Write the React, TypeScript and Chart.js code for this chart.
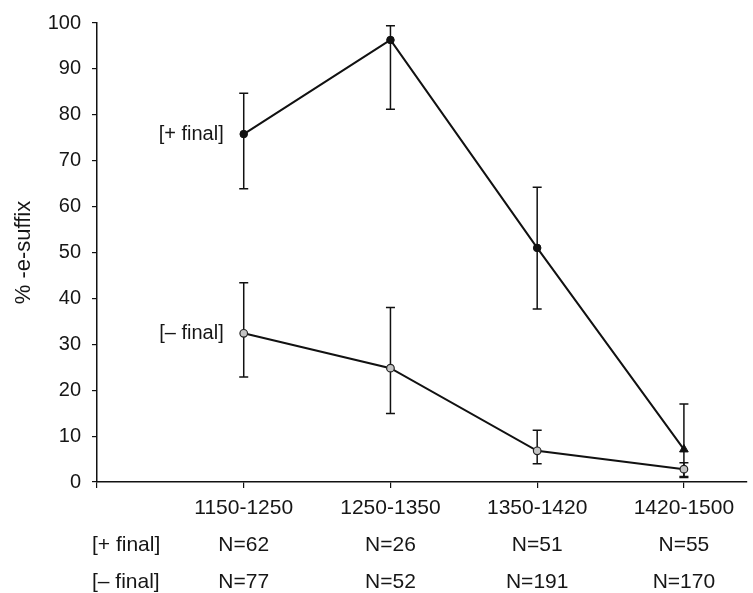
import { useEffect, useRef } from "react";
import { Chart, registerables } from "chart.js";

Chart.register(...registerables);

// Periods on the x axis (positions 1..4; 0 is the y-axis corner)
const periods = ["1150-1250", "1250-1350", "1350-1420", "1420-1500"];

// [+ final] group: mean % with lower / upper error limits
const plusFinal = [75.8, 96.3, 51.0, 7.1];
const plusLow = [63.9, 81.2, 37.7, 1.0];
const plusHigh = [84.7, 99.4, 64.2, 17.0];

// [– final] group
const minusFinal = [32.4, 24.8, 6.8, 2.8];
const minusLow = [22.9, 14.9, 4.0, 1.2];
const minusHigh = [43.4, 38.0, 11.3, 4.2];

// Token counts per period
const nPlus = [62, 26, 51, 55];
const nMinus = [77, 52, 191, 170];

const seriesNames = ["[+ final]", "[– final]"];
const yTicks = [0, 10, 20, 30, 40, 50, 60, 70, 80, 90, 100];

const FONT = '"Liberation Sans", Arial, Helvetica, sans-serif';
const TICK_SIZE = 20;
const X_SIZE = 21;
const TITLE_SIZE = 22;
const LINE_H = 37;
const X_TICK_LEN = 6;
const X_PAD = 1.5;
const TEXT = "#161616";

const errorBars = {
  id: "errorBars",
  beforeDatasetsDraw(chart: any) {
    const { ctx, scales } = chart;
    const groups = [
      { low: plusLow, high: plusHigh },
      { low: minusLow, high: minusHigh },
    ];
    ctx.save();
    ctx.strokeStyle = "#111";
    ctx.lineWidth = 1.5;
    groups.forEach((g) => {
      g.low.forEach((lo: number, i: number) => {
        const x = scales.x.getPixelForValue(i + 1);
        const y1 = scales.y.getPixelForValue(lo);
        const y2 = scales.y.getPixelForValue(g.high[i]);
        ctx.beginPath();
        ctx.moveTo(x, y1);
        ctx.lineTo(x, y2);
        ctx.moveTo(x - 4.5, y1);
        ctx.lineTo(x + 4.5, y1);
        ctx.moveTo(x - 4.5, y2);
        ctx.lineTo(x + 4.5, y2);
        ctx.stroke();
      });
    });
    ctx.restore();
  },
};

const textLabels = {
  id: "textLabels",
  afterDraw(chart: any) {
    const { ctx, scales } = chart;
    ctx.save();
    ctx.fillStyle = TEXT;
    ctx.textBaseline = "middle";
    // series names beside the first points
    ctx.font = `${TICK_SIZE}px ${FONT}`;
    ctx.textAlign = "right";
    const x0 = scales.x.getPixelForValue(1) - 20;
    ctx.fillText(seriesNames[0], x0, scales.y.getPixelForValue(plusFinal[0]));
    ctx.fillText(seriesNames[1], x0, scales.y.getPixelForValue(minusFinal[0]));
    // row heads for the count lines under the axis
    ctx.font = `${X_SIZE}px ${FONT}`;
    ctx.textAlign = "left";
    const base = scales.x.top + X_TICK_LEN + X_PAD + LINE_H / 2;
    ctx.fillText(seriesNames[0], 92, base + LINE_H);
    ctx.fillText(seriesNames[1], 92, base + LINE_H * 2);
    ctx.restore();
  },
};

export default function App() {
  const ref = useRef<HTMLCanvasElement>(null);

  useEffect(() => {
    if (!ref.current) return;
    const chart = new Chart(ref.current, {
      type: "line",
      data: {
        datasets: [
          {
            label: seriesNames[0],
            data: plusFinal.map((v, i) => ({ x: i + 1, y: v })),
            borderColor: "#111",
            borderWidth: 2,
            backgroundColor: "#111",
            pointBackgroundColor: "#111",
            pointBorderColor: "#111",
            pointBorderWidth: 1,
            pointStyle: ["circle", "circle", "circle", "triangle"],
            pointRadius: [3.8, 3.8, 3.8, 5],
            tension: 0,
          },
          {
            label: seriesNames[1],
            data: minusFinal.map((v, i) => ({ x: i + 1, y: v })),
            borderColor: "#111",
            borderWidth: 2,
            backgroundColor: "#c4c4c4",
            pointBackgroundColor: "#c4c4c4",
            pointBorderColor: "#222",
            pointBorderWidth: 1.2,
            pointRadius: 3.8,
            tension: 0,
          },
        ],
      },
      options: {
        responsive: false,
        animation: false,
        devicePixelRatio: 1,
        layout: { padding: { top: 17, left: 0, right: 0, bottom: 0 } },
        plugins: {
          legend: { display: false },
          tooltip: { enabled: false },
        },
        scales: {
          x: {
            type: "linear",
            min: 0,
            max: 4.43,
            afterBuildTicks: (scale: any) => {
              scale.ticks = [0, 1, 2, 3, 4].map((v) => ({ value: v }));
            },
            afterFit: (scale: any) => {
              scale.height = 111;
            },
            border: { display: true, color: "#111", width: 1.5 },
            grid: {
              display: true,
              drawOnChartArea: false,
              drawTicks: true,
              tickLength: X_TICK_LEN,
              color: "#111",
              lineWidth: 1.2,
            },
            ticks: {
              autoSkip: false,
              maxRotation: 0,
              padding: X_PAD,
              color: TEXT,
              font: { family: FONT, size: X_SIZE, lineHeight: LINE_H / X_SIZE },
              callback: (v: any) => {
                const i = Number(v) - 1;
                if (i < 0 || i >= periods.length) return "";
                return [periods[i], `N=${nPlus[i]}`, `N=${nMinus[i]}`];
              },
            },
          },
          y: {
            min: 0,
            max: 100,
            afterBuildTicks: (scale: any) => {
              scale.ticks = yTicks.map((v) => ({ value: v }));
            },
            afterFit: (scale: any) => {
              scale.width = 97;
            },
            border: { display: true, color: "#111", width: 1.5 },
            grid: {
              display: true,
              drawOnChartArea: false,
              drawTicks: true,
              tickLength: 5,
              color: "#111",
              lineWidth: 1.2,
            },
            ticks: {
              padding: 11,
              color: TEXT,
              font: { family: FONT, size: TICK_SIZE },
            },
            title: {
              display: true,
              text: "% -e-suffix",
              color: TEXT,
              font: { family: FONT, size: TITLE_SIZE },
              padding: { top: 11, bottom: 0 },
            },
          },
        },
      },
      plugins: [errorBars, textLabels],
    });
    return () => chart.destroy();
  }, []);

  return (
    <div style={{ position: "absolute", left: 0, top: 0, width: 753, height: 593, background: "#fff" }}>
      <canvas ref={ref} width={753} height={593} />
    </div>
  );
}
